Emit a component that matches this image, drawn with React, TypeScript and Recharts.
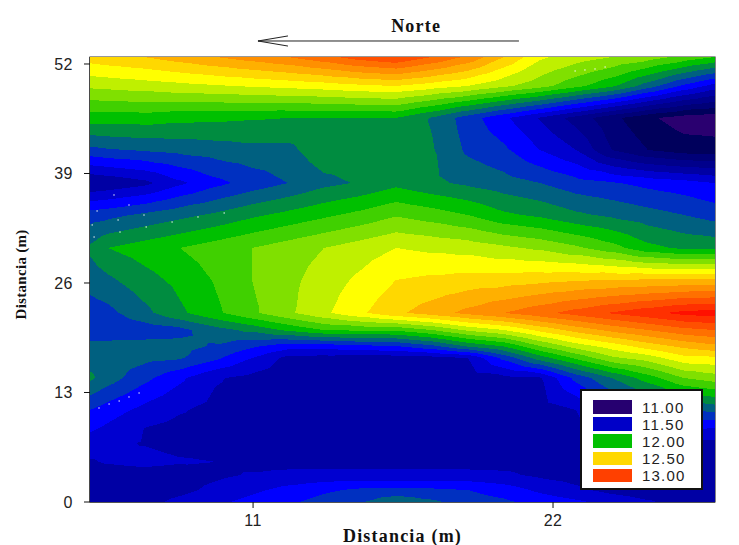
import React from 'react';
import { ComposedChart, Scatter, XAxis, YAxis, ReferenceLine, ReferenceArea, ReferenceDot, Legend } from 'recharts';

const WIDTH = 739;
const HEIGHT = 545;
const MARGIN = { top: 57, right: 24, bottom: 0, left: 0 };
const Y_AXIS_W = 90;
const X_AXIS_H = 43;
const PLOT_W = WIDTH - MARGIN.right - Y_AXIS_W;
const PLOT_H = HEIGHT - MARGIN.top - X_AXIS_H;

const xDomain: [number, number] = [5.02, 27.94];
const yDomain: [number, number] = [0, 52.83];
const xTicks = [11, 22];
const yTicks = [0, 13, 26, 39, 52];

// Sampled distances (m)
const xNodes = [5.02, 5.68, 7.0, 8.32, 9.64, 10.96, 12.28, 13.6, 14.92, 16.24, 17.56, 18.88, 20.2, 21.52, 22.84, 24.16, 25.48, 26.8, 27.94];
const yNodes = [52.83, 49.39, 45.59, 41.79, 37.87, 34.07, 30.16, 26.36, 22.44, 20.42, 18.52, 17.1, 14.72, 10.92, 8.79, 7, 4.75, 3.2, 1.42, 0];

// Measured value at each node, one row per yNodes entry
const zRow0 = [12.55, 12.57, 12.6, 12.65, 12.7, 12.75, 12.8, 12.87, 12.95, 13.0, 12.9, 12.78, 12.6, 12.42, 12.35, 12.3, 12.25, 12.17, 12.1];
const zRow1 = [12.32, 12.33, 12.35, 12.37, 12.39, 12.41, 12.43, 12.45, 12.48, 12.5, 12.45, 12.4, 12.32, 12.24, 12.13, 12.02, 11.85, 11.68, 11.56];
const zRow2 = [12.05, 12.05, 12.05, 12.03, 12.02, 12.01, 12.0, 12.0, 12.0, 12.0, 11.89, 11.75, 11.62, 11.49, 11.36, 11.23, 11.12, 11.05, 11.03];
const zRow3 = [11.77, 11.79, 11.81, 11.83, 11.85, 11.87, 11.87, 11.97, 11.97, 11.95, 11.91, 11.78, 11.72, 11.6, 11.5, 11.3, 11.2, 11.15, 11.15];
const zRow4 = [11.4, 11.42, 11.47, 11.58, 11.67, 11.74, 11.8, 11.87, 11.91, 11.97, 11.92, 11.88, 11.84, 11.8, 11.74, 11.71, 11.67, 11.64, 11.6];
const zRow5 = [11.75, 11.77, 11.82, 11.87, 11.92, 11.98, 12.03, 12.08, 12.13, 12.19, 12.15, 12.1, 12.02, 11.98, 11.92, 11.88, 11.84, 11.8, 11.76];
const zRow6 = [11.92, 12.0, 12.05, 12.1, 12.15, 12.2, 12.25, 12.3, 12.35, 12.4, 12.38, 12.36, 12.32, 12.28, 12.22, 12.14, 12.03, 11.98, 11.97];
const zRow7 = [11.84, 11.88, 11.96, 12.03, 12.11, 12.2, 12.27, 12.35, 12.42, 12.5, 12.52, 12.54, 12.55, 12.57, 12.59, 12.6, 12.61, 12.62, 12.62];
const zRow8 = [11.75, 11.77, 11.87, 11.98, 12.08, 12.18, 12.28, 12.38, 12.48, 12.58, 12.65, 12.73, 12.8, 12.87, 12.94, 13.01, 13.07, 13.13, 13.15];
const zRow8b = [11.72, 11.72, 11.74, 11.77, 11.86, 11.93, 12.02, 12.1, 12.12, 12.12, 12.2, 12.32, 12.4, 12.53, 12.64, 12.73, 12.8, 12.87, 12.9];
const zRow9 = [11.84, 11.84, 11.84, 11.83, 11.79, 11.72, 11.65, 11.65, 11.68, 11.7, 11.78, 11.92, 12.01, 12.2, 12.35, 12.45, 12.55, 12.63, 12.68];
const zRow9b = [11.86, 11.85, 11.83, 11.81, 11.72, 11.6, 11.47, 11.46, 11.45, 11.45, 11.46, 11.5, 11.73, 11.95, 12.12, 12.28, 12.35, 12.47, 12.48];
const zRow10 = [11.92, 11.85, 11.73, 11.62, 11.51, 11.47, 11.46, 11.46, 11.46, 11.46, 11.46, 11.46, 11.47, 11.49, 11.73, 11.9, 12.05, 12.2, 12.25];
const zRow11 = [11.7, 11.65, 11.57, 11.51, 11.47, 11.46, 11.46, 11.46, 11.46, 11.46, 11.46, 11.46, 11.46, 11.46, 11.5, 11.65, 11.72, 11.78, 11.83];
const zRow11b = [11.62, 11.58, 11.5, 11.47, 11.46, 11.46, 11.46, 11.46, 11.46, 11.46, 11.46, 11.46, 11.46, 11.46, 11.47, 11.55, 11.6, 11.62, 11.6];
const zRow12 = [11.55, 11.52, 11.495, 11.47, 11.47, 11.46, 11.46, 11.46, 11.46, 11.46, 11.46, 11.46, 11.46, 11.46, 11.46, 11.46, 11.46, 11.46, 11.47];
const zRow13 = [11.49, 11.51, 11.53, 11.51, 11.5, 11.46, 11.46, 11.46, 11.46, 11.46, 11.46, 11.46, 11.46, 11.46, 11.46, 11.46, 11.46, 11.46, 11.46];
const zRow14 = [11.45, 11.45, 11.45, 11.45, 11.48, 11.51, 11.53, 11.53, 11.53, 11.53, 11.53, 11.53, 11.52, 11.48, 11.46, 11.45, 11.45, 11.45, 11.45];
const zRow15 = [11.44, 11.44, 11.44, 11.47, 11.53, 11.58, 11.63, 11.68, 11.72, 11.72, 11.72, 11.7, 11.65, 11.58, 11.52, 11.47, 11.45, 11.44, 11.44];
const zRow16 = [11.42, 11.43, 11.46, 11.53, 11.58, 11.63, 11.68, 11.74, 11.79, 11.88, 11.82, 11.75, 11.72, 11.66, 11.62, 11.56, 11.51, 11.47, 11.45];
const zRows = [zRow0, zRow1, zRow2, zRow3, zRow4, zRow5, zRow6, zRow7, zRow8, zRow8b, zRow9, zRow9b, zRow10, zRow11, zRow11b, zRow12, zRow13, zRow14, zRow15, zRow16];

// Contour levels and fills
const levels = [10, 11.1, 11.2, 11.3, 11.4, 11.5, 11.6, 11.7, 11.8, 11.9, 12.0, 12.1, 12.2, 12.3, 12.4, 12.5, 12.6, 12.7, 12.8, 12.9, 13.0, 13.1];
const fills = ['#2a0070', '#00005c', '#000078', '#00008c', '#0000a4', '#0000d0', '#0000ff', '#0030c0', '#006080', '#008c40', '#00c000', '#40d000', '#80e000', '#bff000', '#ffff00', '#ffd800', '#ffb000', '#ff9000', '#ff7000', '#ff5000', '#ff3000', '#ff1000'];

const legendLabels = ['11.00', '11.50', '12.00', '12.50', '13.00'];
const legendColors = ['#260070', '#0000c8', '#00c000', '#ffd800', '#ff4000'];

const samplePointsX = [5.9, 6.45, 5.28, 6.05, 7.0, 5.1, 6.12, 7.08, 8.03, 8.98, 9.94, 5.17, 5.35, 5.72, 6.09, 6.45, 6.82, 22.81, 23.17, 23.54, 23.91];
const samplePointsY = [36.45, 35.26, 34.55, 33.48, 34.07, 32.89, 32.05, 32.65, 33.24, 33.84, 34.31, 31.46, 11.16, 11.63, 11.99, 12.47, 12.94, 51.17, 51.29, 51.41, 51.64];

const arrowX = [20.75, 11.18];
const arrowHeadX = 12.28;
const arrowY = 54.73;
const arrowHeadDy = 0.6;

type V = { x: number; y: number; z: number };

const cells = [] as any[];
for (let r = 0; r < yNodes.length - 1; r++) {
  for (let c = 0; c < xNodes.length - 1; c++) {
    cells.push({
      x: xNodes[c],
      y: yNodes[r],
      dx: xNodes[c + 1] - xNodes[c],
      dy: yNodes[r] - yNodes[r + 1],
      tl: zRows[r][c],
      tr: zRows[r][c + 1],
      bl: zRows[r + 1][c],
      br: zRows[r + 1][c + 1],
    });
  }
}
const samplePoints = samplePointsX.map((x, i) => ({ x, y: samplePointsY[i] }));

const clipAbove = (poly: V[], lv: number): V[] => {
  const out: V[] = [];
  for (let i = 0; i < poly.length; i++) {
    const a = poly[i];
    const b = poly[(i + 1) % poly.length];
    if (a.z >= lv) out.push(a);
    if ((a.z >= lv) !== (b.z >= lv)) {
      const t = (lv - a.z) / (b.z - a.z);
      out.push({ x: a.x + t * (b.x - a.x), y: a.y + t * (b.y - a.y), z: lv });
    }
  }
  return out;
};

const ContourCell = (props: any) => {
  const { cx, cy, payload } = props;
  const w = (payload.dx * PLOT_W) / (xDomain[1] - xDomain[0]);
  const h = (payload.dy * PLOT_H) / (yDomain[1] - yDomain[0]);
  const tl: V = { x: cx, y: cy, z: payload.tl };
  const tr: V = { x: cx + w, y: cy, z: payload.tr };
  const br: V = { x: cx + w, y: cy + h, z: payload.br };
  const bl: V = { x: cx, y: cy + h, z: payload.bl };
  const m: V = { x: cx + w / 2, y: cy + h / 2, z: (tl.z + tr.z + br.z + bl.z) / 4 };
  const tris = [[tl, tr, m], [tr, br, m], [br, bl, m], [bl, tl, m]];
  const out: React.ReactNode[] = [];
  levels.forEach((lv, i) => {
    let d = '';
    tris.forEach((t) => {
      const p = clipAbove(t, lv);
      if (p.length > 2) d += 'M' + p.map((v) => `${v.x.toFixed(2)} ${v.y.toFixed(2)}`).join('L') + 'Z';
    });
    if (d) out.push(<path key={i} d={d} fill={fills[i]} shapeRendering="crispEdges" />);
  });
  return <g>{out}</g>;
};

const WhiteDot = (props: any) => <rect x={props.cx - 0.6} y={props.cy - 0.6} width={1.2} height={1.2} fill="#ffffff" />;

const LegendBox = () => (
  <div style={{ width: 123, height: 101, boxSizing: 'border-box', background: '#fff', border: '2px solid #111', position: 'relative' }}>
    {legendLabels.map((label, i) => (
      <div key={label} style={{ position: 'absolute', left: 11, top: 9 + i * 17.1, height: 14, display: 'flex', alignItems: 'center' }}>
        <span style={{ display: 'inline-block', width: 39, height: 13.5, background: legendColors[i] }} />
        <span style={{ marginLeft: 10, fontFamily: '"Liberation Sans", Arial, sans-serif', fontSize: 15, letterSpacing: 1.2, color: '#222' }}>{label}</span>
      </div>
    ))}
  </div>
);

const tickStyle = { fontFamily: '"Liberation Sans", Arial, sans-serif', fontSize: 16, letterSpacing: 0.5, fill: '#222' };
const titleStyle = { fontFamily: '"Liberation Serif", "Times New Roman", serif', fontSize: 18, letterSpacing: 1.2, fontWeight: 700, fill: '#111' };
const yTitleStyle = { fontFamily: '"Liberation Serif", "Times New Roman", serif', fontSize: 15, letterSpacing: 0.3, fontWeight: 700, fill: '#111' };

export default function App() {
  return (
    <div style={{ position: 'absolute', left: 0, top: 0, width: WIDTH, height: HEIGHT, background: '#fff' }}>
      <ComposedChart width={WIDTH} height={HEIGHT} margin={MARGIN} data={cells}>
        <XAxis
          type="number"
          dataKey="x"
          domain={xDomain}
          ticks={xTicks}
          allowDataOverflow
          height={X_AXIS_H}
          tick={tickStyle}
          tickSize={6}
          tickMargin={7}
          stroke="#111"
          label={{ value: 'Distancia (m)', position: 'insideBottom', offset: 3, style: titleStyle }}
        />
        <YAxis
          type="number"
          dataKey="y"
          domain={yDomain}
          ticks={yTicks}
          allowDataOverflow
          width={Y_AXIS_W}
          tick={tickStyle}
          tickSize={6}
          tickMargin={11}
          stroke="#111"
          label={{ value: 'Distancia (m)', angle: -90, position: 'insideLeft', offset: 21, dy: 40, style: yTitleStyle }}
        />
        <Scatter data={cells} dataKey="y" shape={ContourCell} isAnimationActive={false} />
        <Scatter data={samplePoints} dataKey="y" shape={WhiteDot} isAnimationActive={false} />
        <ReferenceArea x1={xDomain[0]} x2={xDomain[1]} y1={yDomain[0]} y2={yDomain[1]} fill="none" stroke="#333" strokeWidth={1.2} />
        <ReferenceLine segment={[{ x: arrowX[0], y: arrowY }, { x: arrowX[1], y: arrowY }]} stroke="#222" strokeWidth={1} ifOverflow="visible" />
        <ReferenceLine segment={[{ x: arrowX[1], y: arrowY }, { x: arrowHeadX, y: arrowY + arrowHeadDy }]} stroke="#222" strokeWidth={1} ifOverflow="visible" />
        <ReferenceLine segment={[{ x: arrowX[1], y: arrowY }, { x: arrowHeadX, y: arrowY - arrowHeadDy }]} stroke="#222" strokeWidth={1} ifOverflow="visible" />
        <ReferenceDot x={16.98} y={56.5} r={0} ifOverflow="visible" label={{ value: 'Norte', position: 'center', style: titleStyle }} />
        <Legend
          layout="vertical"
          align="center"
          verticalAlign="middle"
          content={<LegendBox />}
          wrapperStyle={{ position: 'absolute', left: 580, top: 389, width: 123, height: 101, margin: 0 }}
        />
      </ComposedChart>
    </div>
  );
}
